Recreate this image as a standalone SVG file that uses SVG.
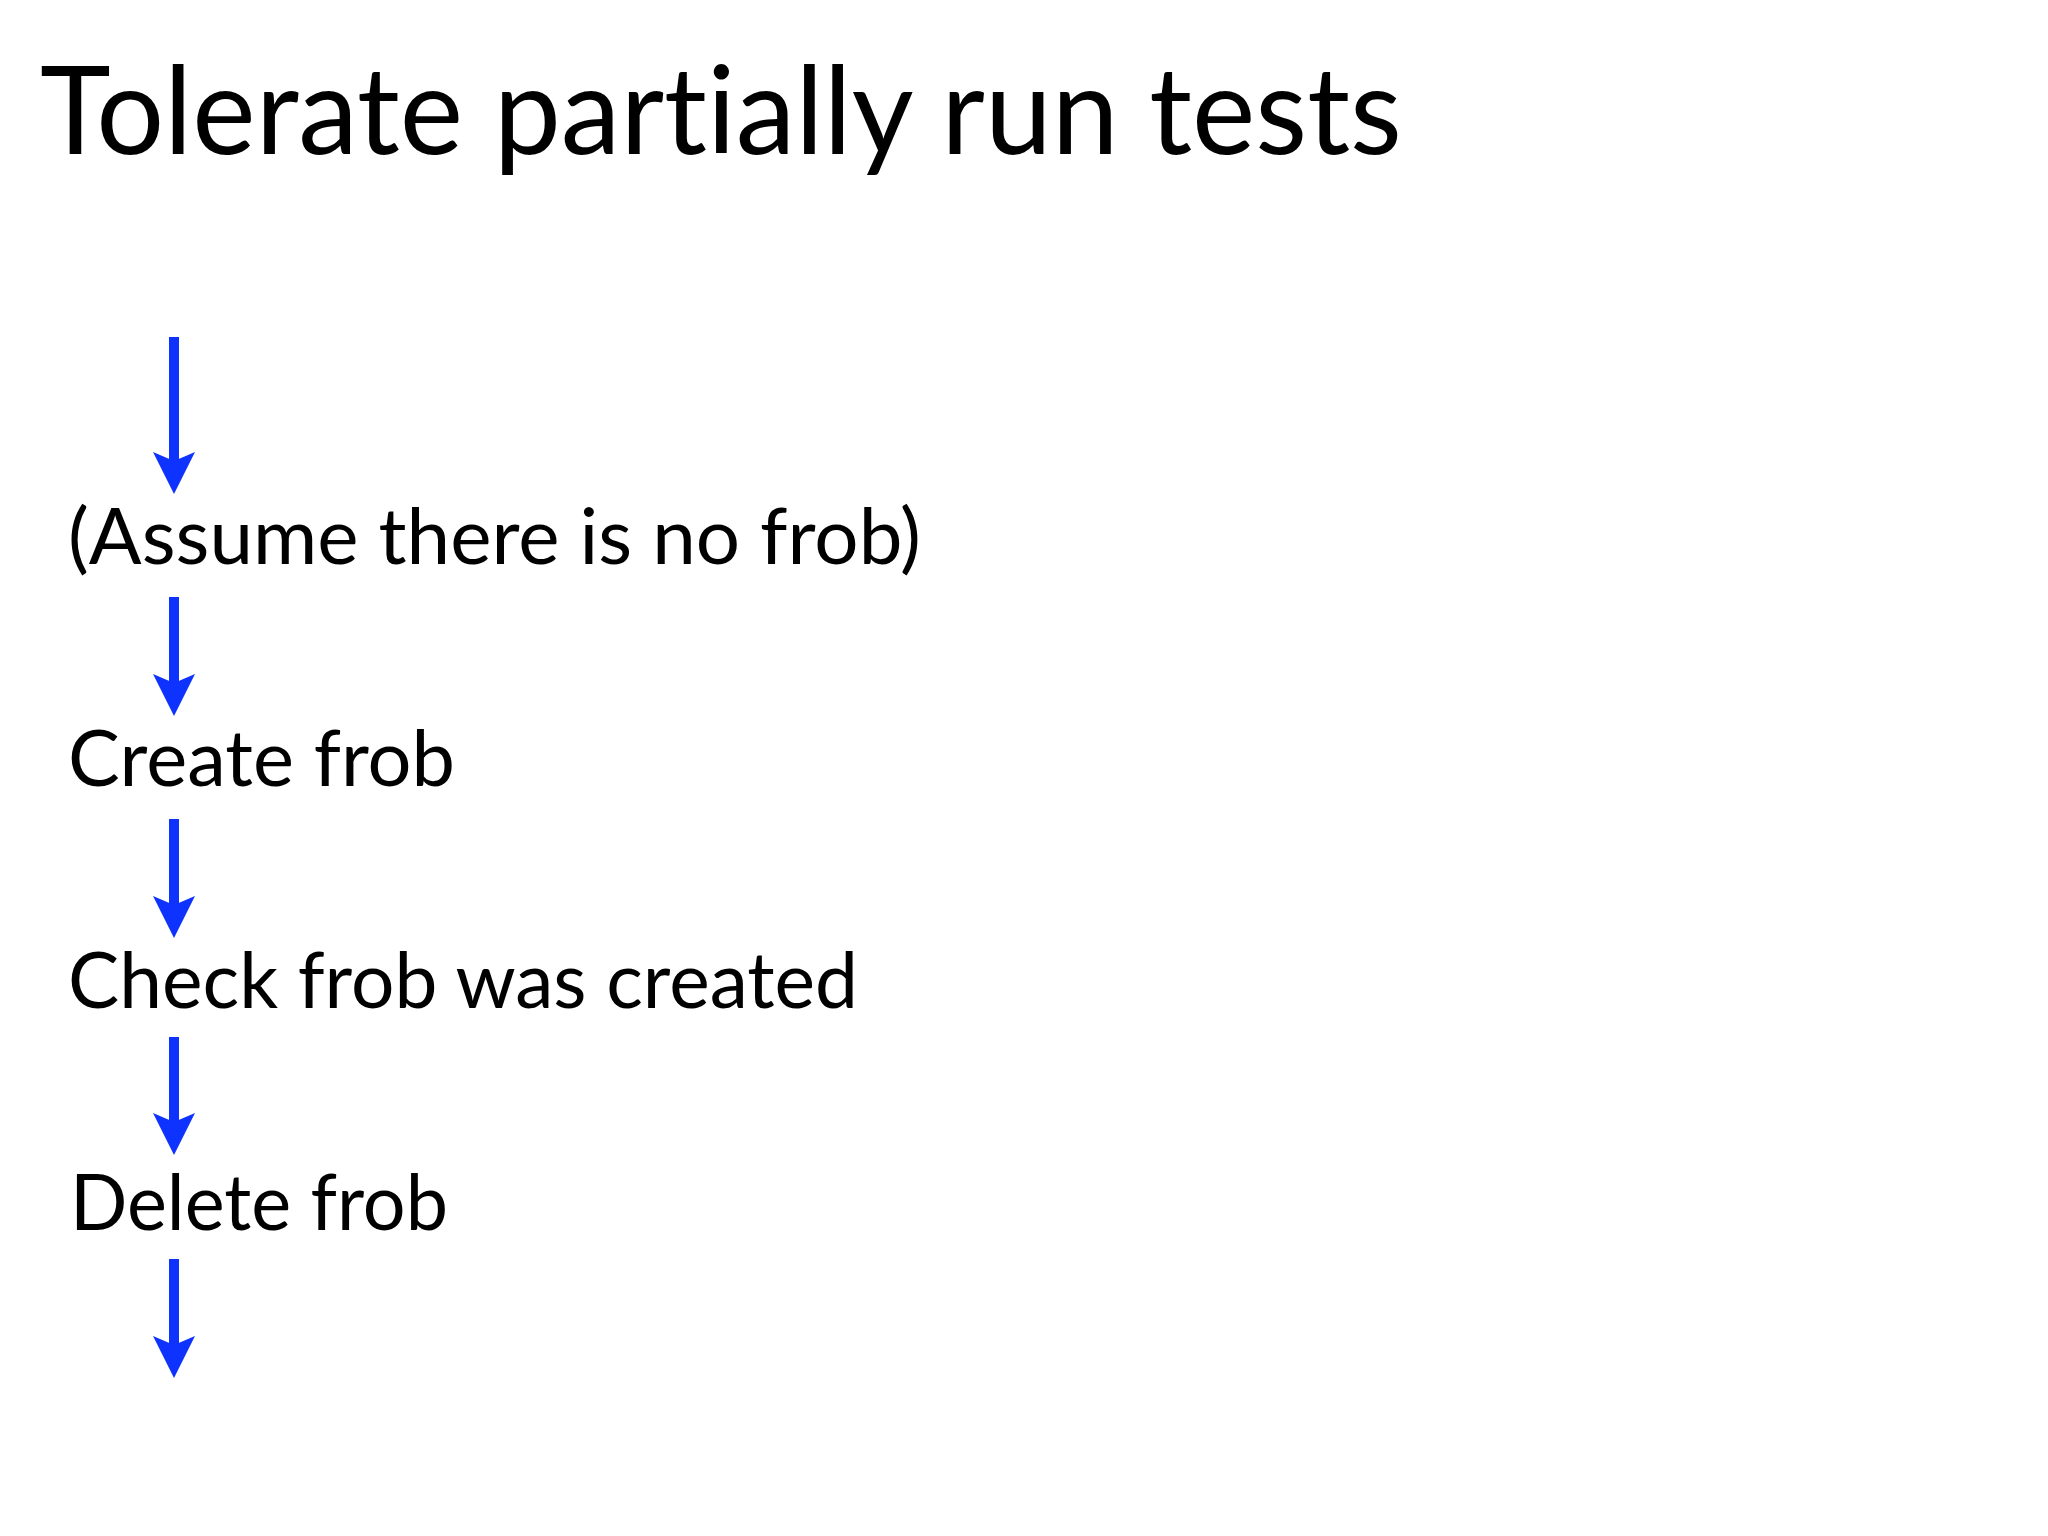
<svg xmlns="http://www.w3.org/2000/svg" width="2048" height="1536" viewBox="0 0 2048 1536">
  <defs>
    <style>
      .title { font-family: Lato, "Open Sans", "Liberation Sans", sans-serif; font-size: 122px; fill: #000; font-variant-ligatures: none; font-feature-settings: "liga" 0; }
      .step { font-family: Lato, "Open Sans", "Liberation Sans", sans-serif; font-size: 77px; fill: #000; font-variant-ligatures: none; font-feature-settings: "liga" 0; }
      .arrow { stroke: #0f33ff; stroke-width: 10; fill: none; marker-end: url(#head); }
    </style>
    <marker id="head" markerUnits="userSpaceOnUse" markerWidth="44" markerHeight="44" viewBox="0 -22 44 44" refX="9" refY="0" orient="auto">
      <path d="M0,-21 L42,0 L0,21 L9,0 Z" fill="#0f33ff"/>
    </marker>
  </defs>
  <rect width="2048" height="1536" fill="#ffffff"/>
  <g id="title">
    <text class="title" x="40" y="154" textLength="1362" lengthAdjust="spacingAndGlyphs">Tolerate partially run tests</text>
  </g>
  <g id="connectors">
    <line class="arrow" x1="174" y1="337" x2="174" y2="461"/>
    <line class="arrow" x1="174" y1="597" x2="174" y2="683"/>
    <line class="arrow" x1="174" y1="819" x2="174" y2="905"/>
    <line class="arrow" x1="174" y1="1037" x2="174" y2="1122"/>
    <line class="arrow" x1="174" y1="1259" x2="174" y2="1345"/>
  </g>
  <g id="node-assume">
    <text class="step" x="68" y="564" textLength="853" lengthAdjust="spacingAndGlyphs">(Assume there is no frob)</text>
  </g>
  <g id="node-create">
    <text class="step" x="68" y="786" textLength="387" lengthAdjust="spacingAndGlyphs">Create frob</text>
  </g>
  <g id="node-check">
    <text class="step" x="68" y="1008" textLength="790" lengthAdjust="spacingAndGlyphs">Check frob was created</text>
  </g>
  <g id="node-delete">
    <text class="step" x="70" y="1230" textLength="378" lengthAdjust="spacingAndGlyphs">Delete frob</text>
  </g>
</svg>
